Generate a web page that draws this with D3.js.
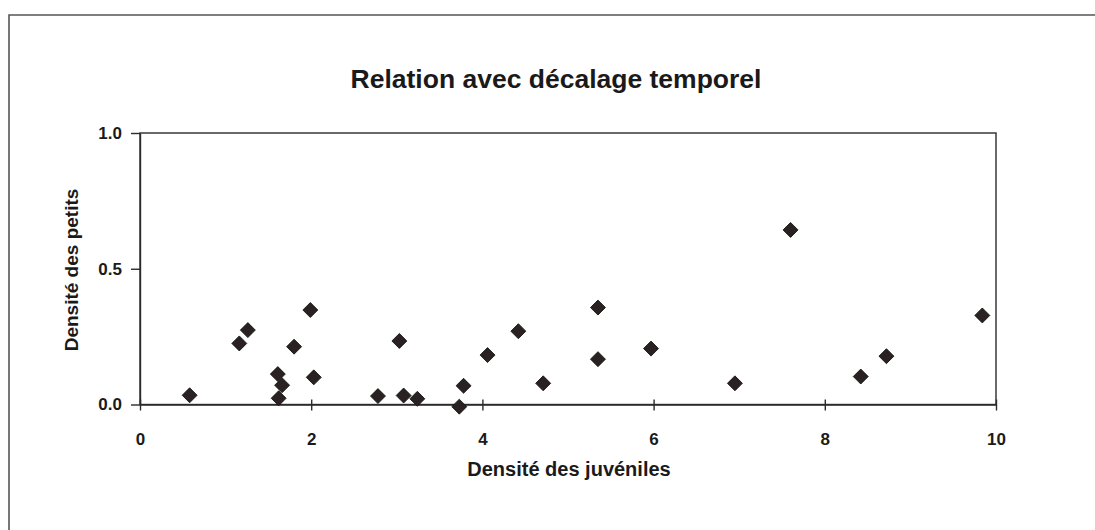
<!DOCTYPE html>
<html>
<head>
<meta charset="utf-8">
<script src="https://cdn.jsdelivr.net/npm/d3@7"></script>
<style>
  html, body { margin: 0; padding: 0; background: #fff; }
  svg { display: block; }
  text { font-family: "Liberation Sans", Arial, sans-serif; font-weight: bold; fill: #1a1a1a; }
</style>
</head>
<body>
<svg id="chart" width="1095" height="530"></svg>
<script>
// Juvenile density (x) and density of young (y), one entry per observation
const juveniles = [0.58, 1.16, 1.26, 1.61, 1.66, 1.62, 1.80, 1.99, 2.03, 2.78, 3.03, 3.08, 3.24, 3.73, 3.78,
                   4.06, 4.42, 4.71, 5.35, 5.35, 5.97, 6.95, 7.60, 8.42, 8.72, 9.84];
const petits    = [0.034, 0.225, 0.274, 0.112, 0.071, 0.023, 0.213, 0.348, 0.100, 0.031, 0.234, 0.033, 0.021, -0.008, 0.069,
                   0.182, 0.270, 0.078, 0.357, 0.167, 0.206, 0.078, 0.643, 0.103, 0.178, 0.328];
const xTicks = [0, 2, 4, 6, 8, 10];
const yTicks = [0.0, 0.5, 1.0];

const title = "Relation avec décalage temporel";
const xTitle = "Densité des juvéniles";
const yTitle = "Densité des petits";

const svg = d3.select("#chart");
const ink = "#2b2b2b";

// outer chart-area frame
svg.append("path")
  .attr("d", "M9,530 L9,15 L1095,15")
  .attr("fill", "none").attr("stroke", "#555").attr("stroke-width", 1.6);

const plot = { left: 140, right: 996, top: 133, bottom: 404.5 };

const x = d3.scaleLinear().domain([0, 10]).range([plot.left, plot.right]);
const y = d3.scaleLinear().domain([0, 1]).range([plot.bottom, plot.top]);

// plot frame
svg.append("rect")
  .attr("x", plot.left).attr("y", plot.top)
  .attr("width", plot.right - plot.left).attr("height", plot.bottom - plot.top)
  .attr("fill", "none").attr("stroke", ink).attr("stroke-width", 1.4);

// x axis: ticks crossing the baseline
const xAxis = svg.append("g").attr("transform", `translate(0,${plot.bottom})`)
  .call(d3.axisBottom(x).tickValues(xTicks).tickFormat(d3.format("d")).tickSizeInner(6).tickSizeOuter(0).tickPadding(22));
xAxis.select(".domain").attr("stroke", ink).attr("stroke-width", 1.4);
xAxis.selectAll(".tick line").attr("y1", -5).attr("y2", 6).attr("stroke", ink).attr("stroke-width", 1.4);
xAxis.selectAll(".tick text").style("font-size", "17px").attr("fill", "#1a1a1a");

// y axis: ticks outside
const yAxis = svg.append("g").attr("transform", `translate(${plot.left},0)`)
  .call(d3.axisLeft(y).tickValues(yTicks).tickFormat(d3.format(".1f")).tickSizeInner(9).tickSizeOuter(0).tickPadding(9));
yAxis.select(".domain").attr("stroke", ink).attr("stroke-width", 1.4);
yAxis.selectAll(".tick line").attr("stroke", ink).attr("stroke-width", 1.4);
yAxis.selectAll(".tick text").style("font-size", "17px").attr("fill", "#1a1a1a");

// diamond markers
const diamond = d3.symbol().type(d3.symbolSquare).size(112);
svg.append("g").selectAll("path")
  .data(juveniles.map((v, i) => [v, petits[i]]))
  .join("path")
  .attr("d", diamond)
  .attr("transform", d => `translate(${x(d[0])},${y(d[1])}) rotate(45)`)
  .attr("fill", "#2a2222")
  .attr("stroke", "#111")
  .attr("stroke-width", 0.8);

// titles
svg.append("text")
  .attr("x", 556).attr("y", 88)
  .attr("text-anchor", "middle")
  .style("font-size", "26.5px")
  .text(title);

svg.append("text")
  .attr("x", 569).attr("y", 476)
  .attr("text-anchor", "middle")
  .style("font-size", "20px")
  .text(xTitle);

svg.append("text")
  .attr("transform", `translate(78,270) rotate(-90)`)
  .attr("text-anchor", "middle")
  .style("font-size", "19px")
  .text(yTitle);
</script>
</body>
</html>
